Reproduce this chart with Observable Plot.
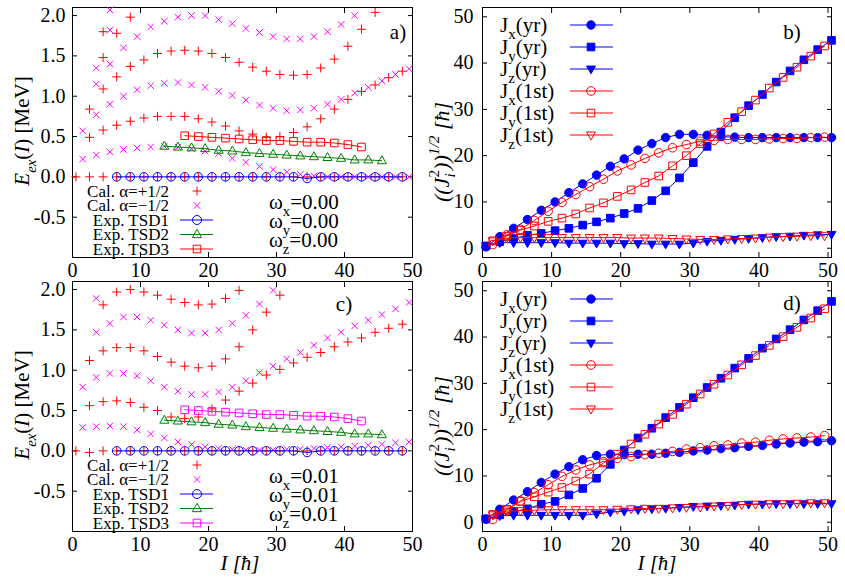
<!DOCTYPE html>
<html><head><meta charset="utf-8">
<script src="https://cdn.jsdelivr.net/npm/d3@7"></script>
<script src="https://cdn.jsdelivr.net/npm/@observablehq/plot@0.6"></script>
<style>
body{margin:0;background:#fff;}
#root{position:relative;width:845px;height:581px;overflow:hidden;background:#fff;font-family:"Liberation Serif",serif;}
#root > svg{position:absolute;}
#root svg text, #root svg tspan{font-family:"Liberation Serif",serif;}
</style></head><body><div id="root"></div>
<script>
const _ = null;
// ---------- spin grids ----------
const spinsPlus  = [0.5,2.5,4.5,6.5,8.5,10.5,12.5,14.5,16.5,18.5,20.5,22.5,24.5,26.5,28.5,30.5,32.5,34.5,36.5,38.5,40.5,42.5,44.5,46.5,48.5];
const spinsMinus = [1.5,3.5,5.5,7.5,9.5,11.5,13.5,15.5,17.5,19.5,21.5,23.5,25.5,27.5,29.5,31.5,33.5,35.5,37.5,39.5,41.5,43.5,45.5,47.5,49.5];
const spinsYrast = [0.5,2.5,4.5,6.5,8.5,10.5,12.5,14.5,16.5,18.5,20.5,22.5,24.5,26.5,28.5,30.5,32.5,34.5,36.5,38.5,40.5,42.5,44.5,46.5,48.5,50.5];

// ---------- panel a (omega = 0.00), calculated bands ----------
const aPlus1 = [0,0,0,0,0,0,0,0,0,0,0,0,0,0,0,0,0,0,0,0,0,0,0,0,0];
const aPlus2 = [_,0.49,0.58,0.64,0.69,0.73,0.75,0.75,0.75,0.72,0.68,0.63,0.57,0.53,0.49,0.50,0.55,0.62,0.72,0.84,0.96,1.06,1.14,1.23,1.31];
const aPlus3 = [_,0.84,1.09,1.24,1.37,1.45,1.53,1.56,1.57,1.56,1.53,1.48,1.42,1.36,1.31,1.27,1.26,1.27,1.35,1.46,1.62,1.83,2.04,_,_];
const aPlusExtraI = [4.5,4.5,6.5,8.5];
const aPlusExtraE = [1.48,1.80,1.78,1.98];
const aMinus1 = [0.22,0.27,0.31,0.34,0.36,0.37,0.38,0.37,0.35,0.32,0.29,0.23,0.18,0.13,0.09,0.06,0.03,0.01,0,0,0,0,0,0,0];
const aMinus2 = [0.57,0.77,0.90,1.00,1.08,1.13,1.16,1.17,1.14,1.11,1.06,1.01,0.95,0.89,0.85,0.82,0.83,0.85,0.90,0.96,1.04,1.11,1.19,1.27,1.34];
const aMinus3 = [_,1.15,1.40,1.60,1.74,1.86,1.93,1.98,2.00,2.00,1.95,1.90,1.84,1.79,1.74,1.71,1.71,1.74,1.80,1.89,2.00,_,_,_,_];
const aMinusExtraI = [3.5,5.5,5.5];
const aMinusExtraE = [1.35,1.82,2.07];

// ---------- panel c (omega = 0.01), calculated bands ----------
const cPlus1 = [0,-0.02,0,0,0,0,0,0,0,0,0,0,0,0,0,0,0,0,0,0,0,0,0,0,0];
const cPlus2 = [_,0.56,0.61,0.62,0.60,0.54,0.50,0.42,0.40,0.42,0.52,0.63,0.74,0.84,0.94,1.01,1.09,1.16,1.22,1.29,1.35,1.40,1.47,1.52,1.57];
const cPlus3 = [_,1.12,1.24,1.28,1.28,1.24,1.17,1.10,1.05,1.03,1.05,1.14,1.29,1.50,1.72,1.93,_,_,_,_,_,_,_,_,_];
const cPlus4 = [_,_,1.81,1.97,2.00,1.97,1.93,1.88,1.84,1.81,1.82,1.89,1.99,_,_,_,_,_,_,_,_,_,_,_,_];
const cMinus1 = [0.29,0.30,0.31,0.30,0.26,0.21,0.16,0.11,0.08,0.05,0.03,0.02,0.01,0.01,0.01,0.02,0.02,0.03,0.04,0.05,0.06,0.07,0.08,0.10,0.11];
const cMinus2 = [0.79,0.91,0.96,0.96,0.93,0.87,0.79,0.74,0.70,0.70,0.73,0.79,0.87,0.97,1.05,1.14,1.22,1.31,1.40,1.47,1.55,1.62,1.69,1.76,1.84];
const cMinus3 = [_,1.47,1.58,1.66,1.66,1.62,1.56,1.50,1.46,1.46,1.50,1.58,1.68,1.82,1.99,_,_,_,_,_,_,_,_,_,_];
const cMinusExtraI = [3.5];
const cMinusExtraE = [1.89];

// ---------- experimental bands (a and c) ----------
const tsd1I = [6.5,8.5,10.5,12.5,14.5,16.5,18.5,20.5,22.5,24.5,26.5,28.5,30.5,32.5,34.5,36.5,38.5,40.5,42.5,44.5,46.5,48.5];
const tsd1E = [0,0,0,0,0,0,0,0,0,0,0,0,0,0,-0.02,0,0,0,0,0,0,0];
const tsd2I = [13.5,15.5,17.5,19.5,21.5,23.5,25.5,27.5,29.5,31.5,33.5,35.5,37.5,39.5,41.5,43.5,45.5];
const tsd2E = [0.38,0.37,0.36,0.35,0.33,0.32,0.30,0.29,0.28,0.27,0.26,0.25,0.24,0.23,0.21,0.21,0.20];
const tsd3I = [16.5,18.5,20.5,22.5,24.5,26.5,28.5,30.5,32.5,34.5,36.5,38.5,40.5,42.5];
const tsd3E = [0.51,0.50,0.49,0.48,0.47,0.46,0.45,0.45,0.44,0.43,0.43,0.42,0.40,0.37];

// ---------- panel b (omega = 0.00), angular momentum components ----------
const bJxYr = [0.3,2.5,4.3,6.2,8.2,10.0,12.0,13.9,15.8,17.7,19.3,21.2,22.6,23.9,24.6,24.6,24.4,24.1,24.0,23.9,23.9,23.9,23.9,23.9,23.9,23.9];
const bJyYr = [0.5,1.4,2.1,2.8,3.2,3.8,4.3,5.0,5.7,6.5,7.5,8.6,10.3,12.4,15.2,18.5,22.0,25.1,28.2,30.8,33.2,35.9,38.3,40.7,42.9,44.9];
const bJzYr = [0.5,1.2,1.2,1.2,1.2,1.2,1.1,1.1,1.1,1.1,1.0,1.0,0.9,0.9,0.9,1.1,1.5,1.7,1.9,2.1,2.3,2.5,2.6,2.8,2.9,3.0];
const bJx1 = [0.8,2.9,4.1,6.0,8.0,9.9,11.6,13.3,14.9,16.7,18.0,19.4,20.6,21.7,22.4,23.1,23.3,23.5,23.5,23.5,23.6,23.7,23.7,23.9,24.0];
const bJy1 = [1.6,2.6,3.9,4.8,5.8,6.5,7.4,8.7,9.8,11.2,12.6,14.2,15.6,17.8,20.0,22.6,24.7,27.2,29.5,32.0,34.6,36.9,39.1,41.5,43.7];
const bJz1 = [1.6,2.2,2.3,2.3,2.3,2.3,2.3,2.3,2.3,2.3,2.2,2.2,2.2,2.1,2.0,1.9,1.9,2.0,2.1,2.2,2.4,2.5,2.6,2.7,2.7];

// ---------- panel d (omega = 0.01) ----------
const dJxYr = [0.7,2.8,4.8,6.6,8.6,10.4,12.0,13.5,14.4,14.7,14.6,14.7,14.7,14.9,15.1,15.4,15.6,15.9,16.1,16.4,16.6,16.9,17.1,17.3,17.4,17.6];
const dJyYr = [0.7,1.6,2.3,2.9,3.9,4.5,5.9,7.3,9.5,12.5,15.6,18.2,20.3,22.6,24.8,26.9,29.1,31.1,33.3,35.4,37.6,39.6,41.6,43.7,45.7,47.7];
const dJzYr = [0.7,1.4,1.5,1.5,1.5,1.5,1.5,1.5,1.8,2.2,2.4,2.7,2.9,3.0,3.2,3.4,3.5,3.6,3.7,3.9,3.9,4.0,4.0,4.0,4.0,4.0];
const dJx1 = [0.6,2.6,4.6,6.4,8.1,9.9,11.3,12.4,13.1,13.8,14.2,14.6,14.9,15.3,15.8,16.1,16.5,16.7,17.1,17.3,17.7,18.0,18.2,18.4,18.7];
const dJy1 = [1.7,2.8,4.5,5.5,6.5,7.5,8.9,10.4,12.8,14.7,16.9,19.0,21.2,23.3,25.5,27.7,29.8,31.8,34.0,36.0,38.2,40.1,42.1,44.1,46.1];
const dJz1 = [1.6,2.4,2.5,2.6,2.7,2.7,2.7,2.7,2.7,2.8,2.9,3.0,3.0,3.1,3.2,3.3,3.5,3.6,3.8,3.9,4.0,4.0,4.1,4.2,4.2];

// ---------- ticks & labels ----------
const eTicks = [-0.5,0,0.5,1,1.5,2];
const jTicks = [0,10,20,30,40,50];
const iTicks = [0,10,20,30,40,50];
const legendE = ["Cal. α=+1/2","Cal. α=\u22121/2","Exp. TSD1","Exp. TSD2","Exp. TSD3"];
const legendJ = [["J","x","(yr)"],["J","y","(yr)"],["J","z","(yr)"],["J","x","(1st)"],["J","y","(1st)"],["J","z","(1st)"]];
const omegaA = ["0.00","0.00","0.00"];
const omegaC = ["0.01","0.01","0.01"];

// ---------- styling ----------
const RED = "#ff0000", BLUE = "#0000ff", MAG = "#ff00ff", GREEN = "#008000";
const FONT = '"Liberation Serif", serif';
const symPlus = {draw(c,s){const r=Math.sqrt(s/Math.PI);c.moveTo(-r,0);c.lineTo(r,0);c.moveTo(0,-r);c.lineTo(0,r);}};
const symTimes = {draw(c,s){const r=Math.sqrt(s/Math.PI)*0.72;c.moveTo(-r,-r);c.lineTo(r,r);c.moveTo(-r,r);c.lineTo(r,-r);}};
const symCircle = {draw(c,s){const r=Math.sqrt(s/Math.PI);c.moveTo(r,0);c.arc(0,0,r,0,2*Math.PI);c.closePath();}};
const symSquare = {draw(c,s){const r=Math.sqrt(s/Math.PI);c.rect(-r,-r,2*r,2*r);}};
const symTriUp = {draw(c,s){const r=Math.sqrt(s/Math.PI);c.moveTo(0,-r*1.15);c.lineTo(r*1.05,r*0.7);c.lineTo(-r*1.05,r*0.7);c.closePath();}};
const symTriDown = {draw(c,s){const r=Math.sqrt(s/Math.PI);c.moveTo(0,r*1.15);c.lineTo(r*1.05,-r*0.7);c.lineTo(-r*1.05,-r*0.7);c.closePath();}};

function pts(I, V) { return I.map((x,i)=>({I:x, V:V[i]})).filter(d=>d.V!=null); }
function bands(I, list) { return list.flatMap(b=>pts(I,b)); }

const root = document.getElementById("root");

function axes(xt, yt, fmtY, padY) {
  return [
    Plot.axisX(xt, {anchor:"bottom", tickSize:-5, tickPadding:10, tickFormat:d=>String(d), label:null, fontSize:20, fontFamily:FONT}),
    Plot.axisX(xt, {anchor:"top", tickSize:-5, tickFormat:()=>"", label:null}),
    Plot.axisY(yt, {anchor:"left", tickSize:-5, tickPadding:padY, tickFormat:fmtY, label:null, fontSize:20, fontFamily:FONT}),
    Plot.axisY(yt, {anchor:"right", tickSize:-5, tickFormat:()=>"", label:null}),
    Plot.frame({stroke:"black", strokeWidth:1})
  ];
}

function energyPanel(top, height, mb, plusB, plusX, minusB, minusX, tsd3Color) {
  const p = Plot.plot({
    width:422, height, marginLeft:72, marginRight:10, marginTop:7, marginBottom:mb,
    x:{domain:[0,50]}, y:{domain:[-1,2.1]},
    style:{fontFamily:FONT, fontSize:"20px", background:"transparent", color:"black", overflow:"visible"},
    marks:[
      ...axes(iTicks, eTicks, d=>d.toFixed(1), 12),
      Plot.dot(plusB.concat(plusX), {x:"I", y:"V", symbol:symPlus, r:4.5, stroke:RED, fill:"none", strokeWidth:1}),
      Plot.dot(minusB.concat(minusX), {x:"I", y:"V", symbol:symTimes, r:4.5, stroke:MAG, fill:"none", strokeWidth:1}),
      Plot.line(pts(tsd1I,tsd1E), {x:"I", y:"V", stroke:BLUE, strokeWidth:1}),
      Plot.dot(pts(tsd1I,tsd1E), {x:"I", y:"V", symbol:symCircle, r:4.3, stroke:BLUE, fill:"none", strokeWidth:1}),
      Plot.line(pts(tsd2I,tsd2E), {x:"I", y:"V", stroke:GREEN, strokeWidth:1}),
      Plot.dot(pts(tsd2I,tsd2E), {x:"I", y:"V", symbol:symTriUp, r:4.3, stroke:GREEN, fill:"none", strokeWidth:1}),
      Plot.line(pts(tsd3I,tsd3E), {x:"I", y:"V", stroke:tsd3Color, strokeWidth:1}),
      Plot.dot(pts(tsd3I,tsd3E), {x:"I", y:"V", symbol:symSquare, r:3.8, stroke:tsd3Color, fill:"none", strokeWidth:1})
    ]
  });
  p.style.left = "0px"; p.style.top = top + "px";
  root.appendChild(p);
}

function jPanel(top, height, mb, yr, first) {
  const series = [
    [spinsYrast, yr[0], symCircle, BLUE, true, 4.2],
    [spinsYrast, yr[1], symSquare, BLUE, true, 3.8],
    [spinsYrast, yr[2], symTriDown, BLUE, true, 4.2],
    [spinsMinus, first[0], symCircle, RED, false, 4.3],
    [spinsMinus, first[1], symSquare, RED, false, 3.8],
    [spinsMinus, first[2], symTriDown, RED, false, 4.3]
  ];
  const marks = [...axes(iTicks, jTicks, d=>String(d), 14)];
  for (const [I, V, sym, col, filled, r] of series) {
    marks.push(Plot.line(pts(I,V), {x:"I", y:"V", stroke:col, strokeWidth:1}));
    marks.push(Plot.dot(pts(I,V), {x:"I", y:"V", symbol:sym, r, stroke:col, fill:filled?col:"none", strokeWidth:1}));
  }
  const p = Plot.plot({
    width:435, height, marginLeft:72, marginRight:14, marginTop:7, marginBottom:mb,
    x:{domain:[0,50.5]}, y:{domain:[-2,52]},
    style:{fontFamily:FONT, fontSize:"20px", background:"transparent", color:"black", overflow:"visible"},
    marks
  });
  p.style.left = "410px"; p.style.top = top + "px";
  root.appendChild(p);
}

energyPanel(0, 280, 23, bands(spinsPlus,[aPlus1,aPlus2,aPlus3]), pts(aPlusExtraI,aPlusExtraE),
  bands(spinsMinus,[aMinus1,aMinus2,aMinus3]), pts(aMinusExtraI,aMinusExtraE), RED);
energyPanel(274, 307, 50, bands(spinsPlus,[cPlus1,cPlus2,cPlus3,cPlus4]), [],
  bands(spinsMinus,[cMinus1,cMinus2,cMinus3]), pts(cMinusExtraI,cMinusExtraE), MAG);
jPanel(0, 280, 23, [bJxYr,bJyYr,bJzYr], [bJx1,bJy1,bJz1]);
jPanel(274, 307, 50, [dJxYr,dJyYr,dJzYr], [dJx1,dJy1,dJz1]);

// ---------- annotation overlay (legends, labels) ----------
const ov = d3.select(root).append("svg").attr("width",845).attr("height",581)
  .style("left","0px").style("top","0px").attr("font-family",FONT);

function rich(x, y, parts, {size=20, anchor="start", rotate=0}={}) {
  const t = ov.append("text").attr("transform",`translate(${x},${y}) rotate(${rotate})`)
    .attr("text-anchor",anchor).attr("font-size",size).attr("fill","black");
  let prev = 0, lastLen = 0;
  for (const p of parts) {
    const sh = (p.sh||0)*size;
    const ts = t.append("tspan").text(p.t).attr("dy", sh - prev);
    if (p.s) ts.attr("font-size", size*p.s);
    if (p.i) ts.attr("font-style","italic");
    if (p.back) ts.attr("dx", -lastLen);
    prev = sh;
    lastLen = ts.node().getComputedTextLength();
  }
  t.attr("y", size*0.35);
  return t;
}

function symPath(sym, r) { const path = d3.path(); sym.draw(path, Math.PI*r*r); return path.toString(); }

function energyLegend(dy, tsd3Color, omegas) {
  const rows = [191, 205.5, 220, 234.5, 249].map(v=>v+dy);
  const syms = [[symPlus,RED,false],[symTimes,MAG,false],[symCircle,BLUE,true],[symTriUp,GREEN,true],[symSquare,tsd3Color,true]];
  legendE.forEach((lab,i)=>{
    ov.append("text").attr("x",169).attr("y",rows[i]).attr("dy","0.35em").attr("text-anchor","end")
      .attr("font-size",17).text(lab);
    const [sym,col,line] = syms[i];
    if (line) ov.append("line").attr("x1",180).attr("x2",213).attr("y1",rows[i]).attr("y2",rows[i]).attr("stroke",col);
    ov.append("path").attr("d",symPath(sym, i===4?3.8:4.5)).attr("transform",`translate(197,${rows[i]})`)
      .attr("fill","none").attr("stroke",col);
  });
  const orow = [202, 221, 240].map(v=>v+dy);
  ["x","y","z"].forEach((c,i)=>{
    rich(269, orow[i], [{t:"ω"},{t:c,s:0.7,sh:0.3},{t:"="+omegas[i],sh:0}], {size:21});
  });
}

function jLegend(dy) {
  const rows = [25, 47, 69, 91, 113, 135].map(v=>v+dy);
  const syms = [[symCircle,BLUE,true,4.2],[symSquare,BLUE,true,3.8],[symTriDown,BLUE,true,4.2],
                [symCircle,RED,false,4.3],[symSquare,RED,false,3.8],[symTriDown,RED,false,4.3]];
  legendJ.forEach((lab,i)=>{
    rich(500, rows[i], [{t:lab[0]},{t:lab[1],s:0.72,sh:0.3},{t:lab[2],sh:0}], {size:21});
    const [sym,col,filled,r] = syms[i];
    ov.append("line").attr("x1",570).attr("x2",613).attr("y1",rows[i]).attr("y2",rows[i]).attr("stroke",col);
    ov.append("path").attr("d",symPath(sym,r)).attr("transform",`translate(591,${rows[i]})`)
      .attr("fill",filled?col:"none").attr("stroke",col);
  });
}

energyLegend(0, RED, omegaA);
energyLegend(274, MAG, omegaC);
jLegend(0);
jLegend(274);

// panel tags
[["a)",398,32],["b)",792,32],["c)",344,304],["d)",792,303]].forEach(([t,x,y])=>{
  ov.append("text").attr("x",x).attr("y",y).attr("dy","0.35em").attr("text-anchor","middle").attr("font-size",21).text(t);
});

// axis titles
const eLabel = [{t:"E",i:true},{t:"ex",i:true,s:0.7,sh:0.3},{t:"(",sh:0},{t:"I",i:true},{t:") [MeV]"}];
rich(22, 131, eLabel, {size:21, anchor:"middle", rotate:-90});
rich(22, 405, eLabel, {size:21, anchor:"middle", rotate:-90});
const jLabel = [{t:"((J",i:true},{t:"i",i:true,s:0.7,sh:0.3},{t:"2",s:0.7,sh:-0.45,back:true},{t:"))",i:true,sh:0},
  {t:"1/2",i:true,s:0.7,sh:-0.45},{t:" [ħ]",i:true,sh:0}];
rich(441, 152, jLabel, {size:22, anchor:"middle", rotate:-90});
rich(441, 426, jLabel, {size:22, anchor:"middle", rotate:-90});
const iLabel = [{t:"I [ħ]",i:true}];
rich(240, 563, iLabel, {size:21, anchor:"middle"});
rich(657, 563, iLabel, {size:21, anchor:"middle"});
</script></body></html>
